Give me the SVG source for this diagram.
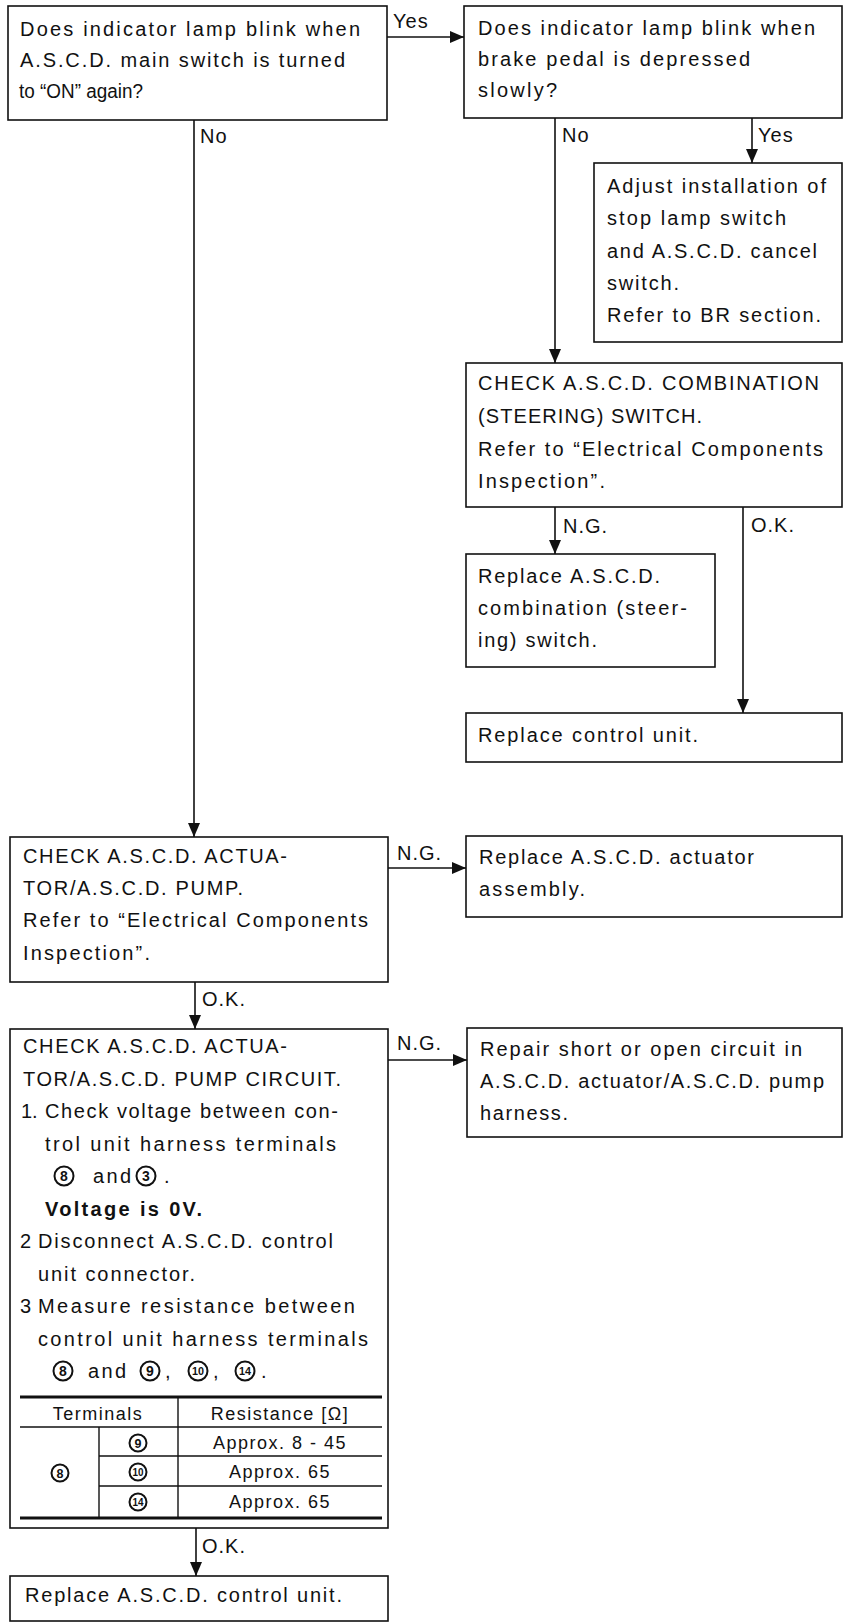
<svg xmlns="http://www.w3.org/2000/svg" width="843" height="1623" viewBox="0 0 843 1623">
<style>
.bg{fill:#fff}
.box{fill:#fff;stroke:#111;stroke-width:1.6}
.t{font-family:"Liberation Sans",Arial,sans-serif;font-size:20px;fill:#111}
.l{font-family:"Liberation Sans",Arial,sans-serif;font-size:20px;fill:#111;letter-spacing:1px}
.b{font-weight:bold}
.tb{font-family:"Liberation Sans",Arial,sans-serif;font-size:18px;fill:#111;letter-spacing:1.5px;text-anchor:middle}
.ci{fill:none;stroke:#111;stroke-width:2}
.cd{font-family:"Liberation Sans",Arial,sans-serif;font-size:14px;font-weight:bold;fill:#111;text-anchor:middle}
.cd2{font-family:"Liberation Sans",Arial,sans-serif;font-size:11.5px;font-weight:bold;fill:#111;text-anchor:middle}
.cn{fill:none;stroke:#111;stroke-width:1.6}
.thin{stroke:#111;stroke-width:1.4}
.thick{stroke:#111;stroke-width:3.2}
</style>
<defs>
<marker id="ah" viewBox="0 0 14 12" refX="14" refY="6" markerWidth="14" markerHeight="12" markerUnits="userSpaceOnUse" orient="auto">
<path d="M0,0 L14,6 L0,12 z" fill="#111"/>
</marker>
</defs>
<rect class="bg" x="0" y="0" width="843" height="1623"/>

<g id="connectors">
<path class="cn" d="M387,37 H464" marker-end="url(#ah)"/>
<path class="cn" d="M194,120 V837" marker-end="url(#ah)"/>
<path class="cn" d="M555,118 V363" marker-end="url(#ah)"/>
<path class="cn" d="M752,118 V163" marker-end="url(#ah)"/>
<path class="cn" d="M555,507 V554" marker-end="url(#ah)"/>
<path class="cn" d="M743,507 V713" marker-end="url(#ah)"/>
<path class="cn" d="M388,868 H466" marker-end="url(#ah)"/>
<path class="cn" d="M195,982 V1029" marker-end="url(#ah)"/>
<path class="cn" d="M388,1060 H467" marker-end="url(#ah)"/>
<path class="cn" d="M196,1528 V1576" marker-end="url(#ah)"/>
<text class="l" x="393" y="28">Yes</text>
<text class="l" x="200" y="143">No</text>
<text class="l" x="562" y="142">No</text>
<text class="l" x="758" y="142">Yes</text>
<text class="l" x="563" y="533">N.G.</text>
<text class="l" x="751" y="532">O.K.</text>
<text class="l" x="397" y="860">N.G.</text>
<text class="l" x="202" y="1006">O.K.</text>
<text class="l" x="397" y="1050">N.G.</text>
<text class="l" x="202" y="1553">O.K.</text>
</g>

<g id="q1">
<rect class="box" x="8" y="6" width="379" height="114"/>
<text class="t" x="20" y="36" textLength="340" lengthAdjust="spacing">Does indicator lamp blink when</text>
<text class="t" x="20" y="67" textLength="325" lengthAdjust="spacing">A.S.C.D. main switch is turned</text>
<text class="t" x="19" y="98" textLength="124" lengthAdjust="spacingAndGlyphs">to “ON” again?</text>
</g>

<g id="q2">
<rect class="box" x="464" y="6" width="378" height="112"/>
<text class="t" x="478" y="35" textLength="337" lengthAdjust="spacing">Does indicator lamp blink when</text>
<text class="t" x="478" y="66" textLength="272" lengthAdjust="spacing">brake pedal is depressed</text>
<text class="t" x="478" y="97" textLength="79" lengthAdjust="spacing">slowly?</text>
</g>

<g id="adjust">
<rect class="box" x="594" y="163" width="248" height="179"/>
<text class="t" x="607" y="193" textLength="219" lengthAdjust="spacing">Adjust installation of</text>
<text class="t" x="607" y="225" textLength="179" lengthAdjust="spacing">stop lamp switch</text>
<text class="t" x="607" y="258" textLength="210" lengthAdjust="spacing">and A.S.C.D. cancel</text>
<text class="t" x="607" y="290" textLength="72" lengthAdjust="spacing">switch.</text>
<text class="t" x="607" y="322" textLength="214" lengthAdjust="spacing">Refer to BR section.</text>
</g>

<g id="checkComb">
<rect class="box" x="466" y="363" width="376" height="144"/>
<text class="t" x="478" y="390" textLength="341" lengthAdjust="spacing">CHECK A.S.C.D. COMBINATION</text>
<text class="t" x="478" y="423" textLength="224" lengthAdjust="spacing">(STEERING) SWITCH.</text>
<text class="t" x="478" y="456" textLength="345" lengthAdjust="spacing">Refer to “Electrical Components</text>
<text class="t" x="478" y="488" textLength="127" lengthAdjust="spacing">Inspection”.</text>
</g>

<g id="replaceComb">
<rect class="box" x="466" y="554" width="249" height="113"/>
<text class="t" x="478" y="583" textLength="182" lengthAdjust="spacing">Replace A.S.C.D.</text>
<text class="t" x="478" y="615" textLength="209" lengthAdjust="spacing">combination (steer-</text>
<text class="t" x="478" y="647" textLength="119" lengthAdjust="spacing">ing) switch.</text>
</g>

<g id="replaceCU">
<rect class="box" x="466" y="713" width="376" height="49"/>
<text class="t" x="478" y="742" textLength="220" lengthAdjust="spacing">Replace control unit.</text>
</g>

<g id="checkAct">
<rect class="box" x="10" y="837" width="378" height="145"/>
<text class="t" x="23" y="863" textLength="264" lengthAdjust="spacing">CHECK A.S.C.D. ACTUA-</text>
<text class="t" x="23" y="895" textLength="220" lengthAdjust="spacing">TOR/A.S.C.D. PUMP.</text>
<text class="t" x="23" y="927" textLength="345" lengthAdjust="spacing">Refer to “Electrical Components</text>
<text class="t" x="23" y="960" textLength="127" lengthAdjust="spacing">Inspection”.</text>
</g>

<g id="replaceAct">
<rect class="box" x="466" y="836" width="376" height="81"/>
<text class="t" x="479" y="864" textLength="275" lengthAdjust="spacing">Replace A.S.C.D. actuator</text>
<text class="t" x="479" y="896" textLength="106" lengthAdjust="spacing">assembly.</text>
</g>

<g id="repair">
<rect class="box" x="467" y="1028" width="375" height="109"/>
<text class="t" x="480" y="1056" textLength="322" lengthAdjust="spacing">Repair short or open circuit in</text>
<text class="t" x="480" y="1088" textLength="344" lengthAdjust="spacing">A.S.C.D. actuator/A.S.C.D. pump</text>
<text class="t" x="480" y="1120" textLength="88" lengthAdjust="spacing">harness.</text>
</g>

<g id="checkCircuit">
<rect class="box" x="10" y="1029" width="378" height="499"/>
<text class="t" x="23" y="1053" textLength="264" lengthAdjust="spacing">CHECK A.S.C.D. ACTUA-</text>
<text class="t" x="23" y="1085.5" textLength="318" lengthAdjust="spacing">TOR/A.S.C.D. PUMP CIRCUIT.</text>
<text class="t" x="21" y="1118">1.</text>
<text class="t" x="45" y="1118" textLength="293" lengthAdjust="spacing">Check voltage between con-</text>
<text class="t" x="45" y="1150.5" textLength="291" lengthAdjust="spacing">trol unit harness terminals</text>
<circle class="ci" cx="64" cy="1176" r="9.5"/>
<text class="cd" x="64" y="1181">8</text>
<text class="t" x="93" y="1183" textLength="38" lengthAdjust="spacing">and</text>
<circle class="ci" cx="146" cy="1176" r="9.5"/>
<text class="cd" x="146" y="1181">3</text>
<text class="t" x="164" y="1183">.</text>
<text class="t b" x="45" y="1215.5" textLength="157" lengthAdjust="spacing">Voltage is 0V.</text>
<text class="t" x="20" y="1248">2</text>
<text class="t" x="38" y="1248" textLength="295" lengthAdjust="spacing">Disconnect A.S.C.D. control</text>
<text class="t" x="38" y="1280.5" textLength="157" lengthAdjust="spacing">unit connector.</text>
<text class="t" x="20" y="1313">3</text>
<text class="t" x="38" y="1313" textLength="317" lengthAdjust="spacing">Measure resistance between</text>
<text class="t" x="38" y="1345.5" textLength="330" lengthAdjust="spacing">control unit harness terminals</text>
<circle class="ci" cx="63" cy="1371" r="9.5"/>
<text class="cd" x="63" y="1376">8</text>
<text class="t" x="88" y="1378" textLength="38" lengthAdjust="spacing">and</text>
<circle class="ci" cx="150" cy="1371" r="9.5"/>
<text class="cd" x="150" y="1376">9</text>
<text class="t" x="165" y="1378">,</text>
<circle class="ci" cx="198" cy="1371" r="9.5"/>
<text class="cd2" x="198" y="1375" textLength="12" lengthAdjust="spacingAndGlyphs">10</text>
<text class="t" x="213" y="1378">,</text>
<circle class="ci" cx="245" cy="1371" r="9.5"/>
<text class="cd2" x="245" y="1375" textLength="12" lengthAdjust="spacingAndGlyphs">14</text>
<text class="t" x="261" y="1378">.</text>
<line class="thick" x1="20" y1="1397" x2="382" y2="1397"/>
<line class="thin" x1="20" y1="1427" x2="382" y2="1427"/>
<line class="thin" x1="178" y1="1397" x2="178" y2="1518"/>
<line class="thin" x1="99" y1="1427" x2="99" y2="1518"/>
<line class="thin" x1="99" y1="1456" x2="382" y2="1456"/>
<line class="thin" x1="99" y1="1486" x2="382" y2="1486"/>
<line class="thick" x1="20" y1="1518" x2="382" y2="1518"/>
<text class="tb" x="98" y="1420">Terminals</text>
<text class="tb" x="280" y="1420">Resistance [Ω]</text>
<circle class="ci" cx="60" cy="1473" r="8.5"/>
<text class="cd" x="60" y="1478" style="font-size:12.5px">8</text>
<circle class="ci" cx="138" cy="1443" r="8.5"/>
<text class="cd" x="138" y="1448" style="font-size:12.5px">9</text>
<circle class="ci" cx="138" cy="1472" r="8.5"/>
<text class="cd2" x="138" y="1476" style="font-size:10.5px" textLength="11" lengthAdjust="spacingAndGlyphs">10</text>
<circle class="ci" cx="138" cy="1502" r="8.5"/>
<text class="cd2" x="138" y="1506" style="font-size:10.5px" textLength="11" lengthAdjust="spacingAndGlyphs">14</text>
<text class="tb" x="280" y="1449">Approx. 8 - 45</text>
<text class="tb" x="280" y="1478">Approx. 65</text>
<text class="tb" x="280" y="1508">Approx. 65</text>
</g>

<g id="replaceASCDCU">
<rect class="box" x="10" y="1576" width="378" height="45"/>
<text class="t" x="25" y="1602" textLength="317" lengthAdjust="spacing">Replace A.S.C.D. control unit.</text>
</g>
</svg>
